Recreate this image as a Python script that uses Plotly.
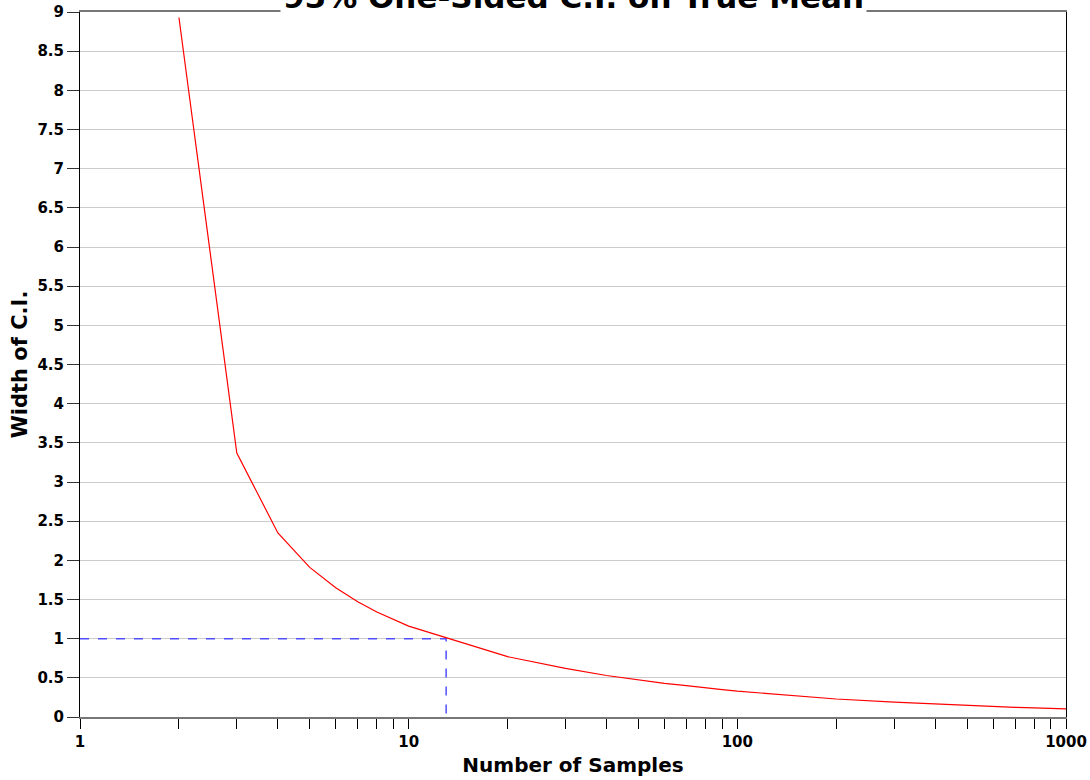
import plotly.graph_objects as go

# Data
samples = [2, 3, 4, 5, 6, 7, 8, 9, 10, 20, 30, 40, 50, 60, 70, 80, 90, 100,
           200, 300, 400, 500, 600, 700, 800, 900, 1000]
ci_width = [8.93, 3.37, 2.35, 1.91, 1.65, 1.47, 1.34, 1.24, 1.16, 0.77, 0.62,
            0.53, 0.47, 0.43, 0.40, 0.37, 0.35, 0.33, 0.23, 0.19, 0.165, 0.147,
            0.134, 0.124, 0.116, 0.110, 0.104]
guide_x = [1, 13, 13]
guide_y = [1, 1, 0]

x_tickvals = [1, 2, 3, 4, 5, 6, 7, 8, 9, 10, 20, 30, 40, 50, 60, 70, 80, 90,
              100, 200, 300, 400, 500, 600, 700, 800, 900, 1000]
x_ticktext = ["1"] + [""] * 8 + ["10"] + [""] * 8 + ["100"] + [""] * 8 + ["1000"]
y_tickvals = [0, 0.5, 1, 1.5, 2, 2.5, 3, 3.5, 4, 4.5, 5, 5.5, 6, 6.5, 7, 7.5,
              8, 8.5, 9]
y_ticktext = ["0", "0.5", "1", "1.5", "2", "2.5", "3", "3.5", "4", "4.5", "5",
              "5.5", "6", "6.5", "7", "7.5", "8", "8.5", "9"]

title_text = "95% One-Sided C.I. on True Mean"
x_title = "Number of Samples"
y_title = "Width of C.I."

FONT = "DejaVu Sans"

fig = go.Figure()
fig.add_trace(go.Scatter(x=guide_x, y=guide_y, mode="lines",
                         line=dict(color="#4f4fff", width=1.5, dash="dash"),
                         hoverinfo="skip", showlegend=False))
fig.add_trace(go.Scatter(x=samples, y=ci_width, mode="lines",
                         line=dict(color="#ff0000", width=1.2),
                         showlegend=False))

fig.update_layout(
    width=1090, height=780,
    margin=dict(l=80, r=24, t=12, b=63, autoexpand=False),
    paper_bgcolor="white", plot_bgcolor="white",
    font=dict(family=FONT, color="black"),
)

fig.update_xaxes(
    type="log", range=[0, 3], automargin=False,
    tickvals=x_tickvals, ticktext=x_ticktext,
    ticks="outside", ticklen=10, tickwidth=1, tickcolor="black",
    tickfont=dict(family=FONT, size=15, weight="bold", color="black"),
    showline=True, linecolor="#777777", linewidth=2, mirror=True,
    showgrid=False, zeroline=False,
    title=dict(text=x_title, font=dict(family=FONT, size=20, weight="bold"),
               standoff=8),
)
fig.update_yaxes(
    range=[0, 9], automargin=False,
    tickvals=y_tickvals, ticktext=y_ticktext,
    ticks="outside", ticklen=12, tickwidth=1, tickcolor="#333333",
    tickfont=dict(family=FONT, size=15, weight="bold", color="black"),
    showline=True, linecolor="black", linewidth=1, mirror=True,
    showgrid=True, gridcolor="#cccccc", gridwidth=1, zeroline=False,
    title=dict(text=y_title, font=dict(family=FONT, size=21, weight="bold"),
               standoff=4),
)

fig.add_annotation(
    text=title_text, xref="paper", yref="paper", x=0.5, y=0.9915,
    xanchor="center", yanchor="bottom", showarrow=False,
    font=dict(family=FONT, size=31, weight="bold", color="black"),
    bgcolor="white", borderpad=2,
)

fig.write_html("out.html", config={"displayModeBar": False},
               post_script="document.body.style.margin='0';")
